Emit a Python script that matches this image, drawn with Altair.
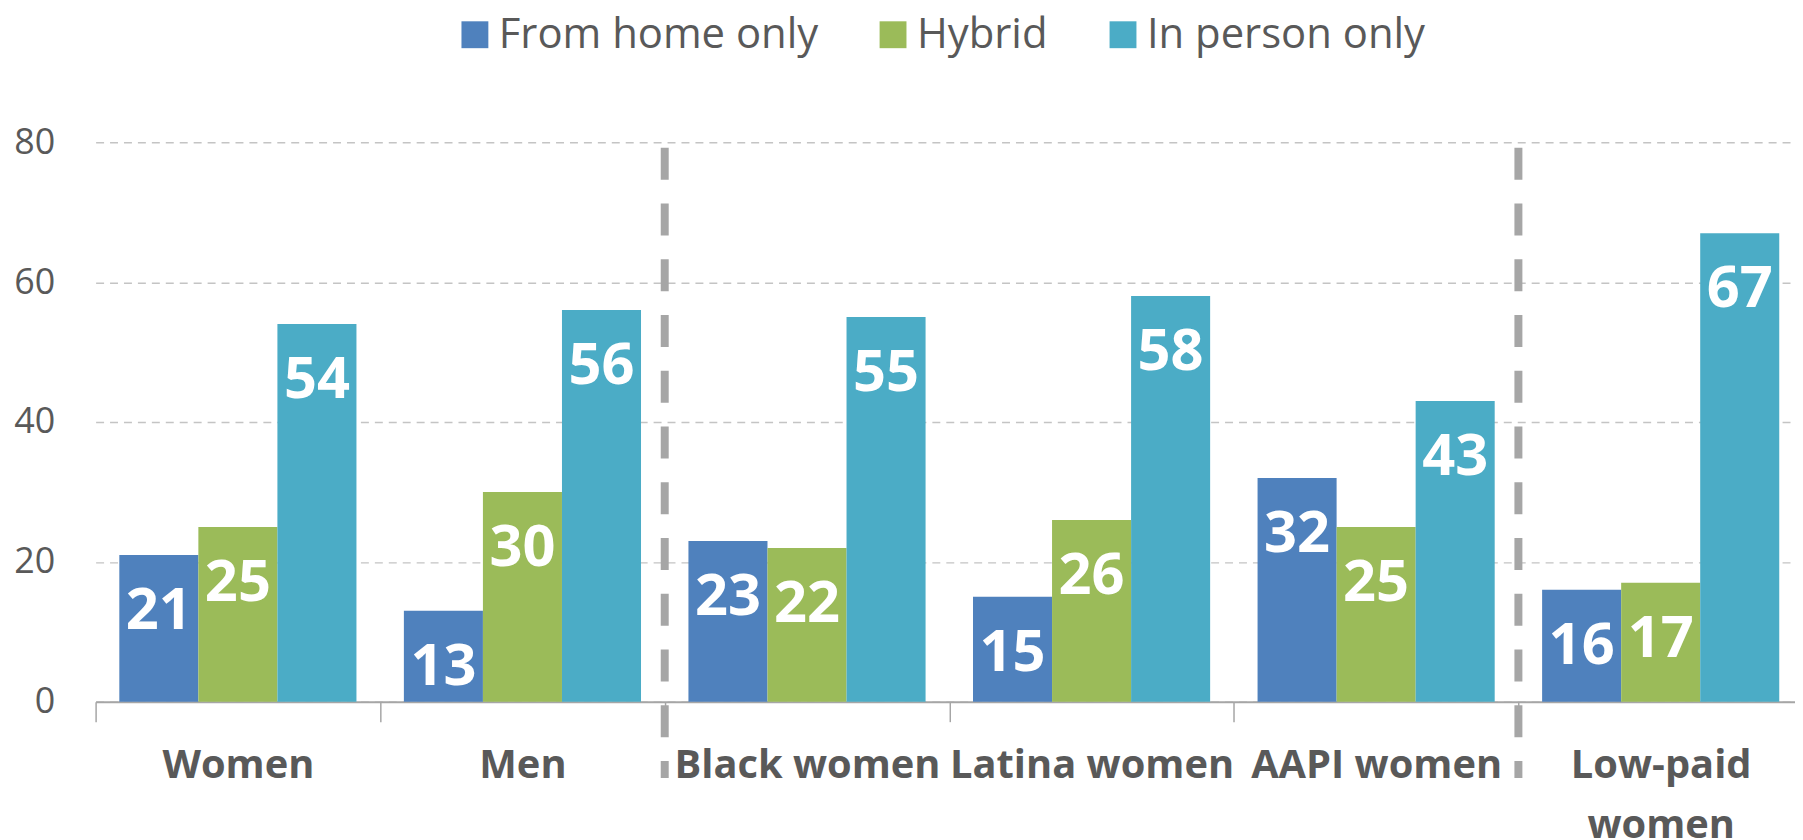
import altair as alt
import pandas as pd

categories = ["Women", "Men", "Black women", "Latina women", "AAPI women", "Low-paid women"]
series = ["From home only", "Hybrid", "In person only"]
from_home = [21, 13, 23, 15, 32, 16]
hybrid = [25, 30, 22, 26, 25, 17]
in_person = [54, 56, 55, 58, 43, 67]
separators = ["Black women", "Low-paid women"]
y_ticks = [0, 20, 40, 60, 80]
colors = ["#4F81BD", "#9BBB59", "#4BACC6"]

rows = []
for i, c in enumerate(categories):
    for s, vals in zip(series, [from_home, hybrid, in_person]):
        rows.append({"group": c, "mode": s, "value": vals[i]})
df = pd.DataFrame(rows)
sep_df = pd.DataFrame({"group": separators})

GREY = "#595959"

x_main = alt.X(
    "group:N",
    sort=categories,
    title=None,
    scale=alt.Scale(domain=categories, paddingInner=0, paddingOuter=0, rangeMax=1715),
    axis=alt.Axis(
        labelAngle=0,
        labelFont="Open Sans",
        labelFontWeight="bold",
        labelFontSize=40,
        labelColor=GREY,
        labelPadding=24,
        labelLineHeight=60,
        labelBaseline="top",
        labelOverlap=False,
        labelLimit=600,
        labelExpr="datum.value == 'Low-paid women' ? ['Low-paid', 'women'] : datum.label",
        tickBand="extent",
        tickSize=20,
        tickColor="#a6a6a6",
        tickWidth=1.5,
        domainColor="#a6a6a6",
        domainWidth=2,
        grid=False,
    ),
)
xoff = alt.XOffset("mode:N", sort=series,
                   scale=alt.Scale(domain=series, paddingInner=0, paddingOuter=0.3))
y_main = alt.Y(
    "value:Q",
    title=None,
    scale=alt.Scale(domain=[0, 80], nice=False),
    axis=alt.Axis(
        values=y_ticks,
        labelFont="Open Sans",
        labelFontSize=36,
        labelColor=GREY,
        labelPadding=41,
        ticks=False,
        tickSize=0,
        domain=False,
        grid=True,
        gridColor="#c4c4c4",
        gridDash=[8, 6],
        gridWidth=1.5,
    ),
)

bars = alt.Chart(df).mark_bar().encode(
    x=x_main,
    xOffset=xoff,
    y=y_main,
    color=alt.Color(
        "mode:N",
        sort=series,
        scale=alt.Scale(domain=series, range=colors),
        legend=alt.Legend(
            orient="none",
            legendX=360,
            legendY=-129,
            direction="horizontal",
            columns=3,
            title=None,
            symbolType="square",
            symbolSize=729,
            symbolStrokeWidth=0,
            symbolOpacity=1,
            labelFont="Open Sans",
            labelFontSize=42,
            labelColor=GREY,
            labelOffset=3,
            columnPadding=54,
            labelLimit=600,
            padding=0,
        ),
    ),
)

labels = alt.Chart(df).mark_text(
    baseline="top", align="center", dy=28, fontSize=58, fontWeight="bold",
    font="Open Sans", color="white"
).encode(
    x=alt.X("group:N", sort=categories, title=None),
    xOffset=alt.XOffset("mode:N", sort=series),
    y=alt.Y("value:Q", title=None),
    text=alt.Text("value:Q"),
)

rules = alt.Chart(sep_df).mark_rule(
    color="#a6a6a6", strokeWidth=8, strokeDash=[32, 24], strokeCap="butt"
).encode(
    x=alt.X("group:N", sort=categories, title=None, bandPosition=0),
    y=alt.Y(datum=79.2),
    y2=alt.Y2(datum=-10.9),
)

chart = alt.layer(bars, labels, rules).properties(
    width=1707,
    height=562,
    autosize=alt.AutoSizeParams(type="none"),
    padding={"left": 88, "top": 133, "right": 0, "bottom": 137},
    background="white",
).configure_view(stroke=None)

chart.save("out.html", embed_options={"renderer": "svg", "actions": False})
